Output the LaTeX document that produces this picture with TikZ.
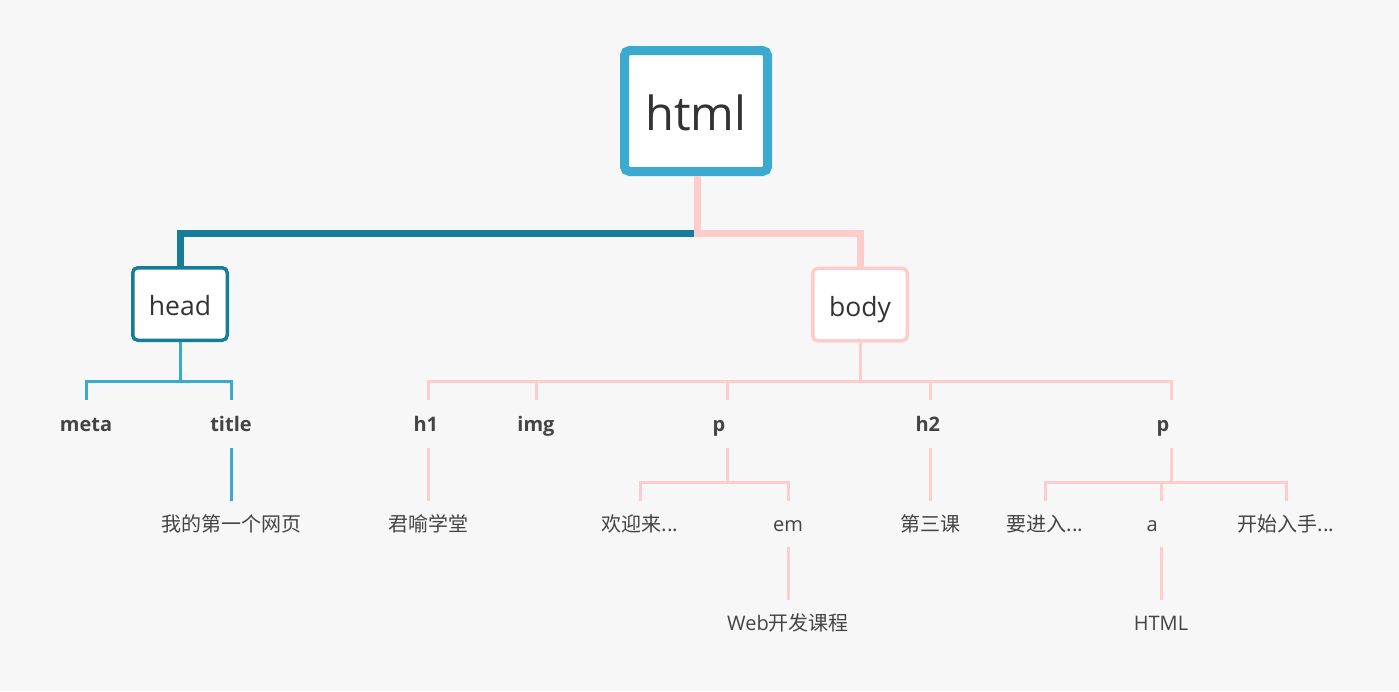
\documentclass[tikz,border=0pt]{standalone}
\usepackage{fontspec}
\setmainfont{Open Sans}
\newfontfamily\cjk{Noto Sans CJK SC}
\usepackage{tikz}
\definecolor{pagebg}{HTML}{F7F7F7}
\definecolor{htmlblue}{HTML}{3AAACE}
\definecolor{headteal}{HTML}{167C98}
\definecolor{bodypink}{HTML}{FFCCCC}
\definecolor{darktext}{HTML}{333333}
\definecolor{labeltext}{HTML}{444444}
\tikzset{
  rootbox/.style={
    draw=htmlblue,
    fill=white,
    line width=9pt,
    rounded corners=5pt,
    inner sep=0pt,
    minimum width=143pt,
    minimum height=121pt,
    text height=38pt,
    text depth=0pt,
    text=darktext,
    font=\fontsize{47}{56}\selectfont
  },
  branchbox/.style={
    fill=white,
    line width=3.5pt,
    rounded corners=5pt,
    inner sep=0pt,
    minimum width=94.5pt,
    minimum height=72.5pt,
    text height=26pt,
    text depth=3pt,
    text=darktext,
    font=\fontsize{26.5}{32}\selectfont
  },
  tagnode/.style={
    inner sep=0pt,
    minimum height=47pt,
    text height=19pt,
    text depth=5pt,
    text=labeltext,
    font=\fontsize{20}{24}\selectfont\bfseries
  },
  leafnode/.style={
    inner sep=0pt,
    minimum height=46pt,
    text height=19pt,
    text depth=5pt,
    text=labeltext,
    font=\fontsize{20}{24}\selectfont
  },
  shorttag/.style={text width=29pt, align=left},
  trunk/.style={line width=7pt},
  twig/.style={line width=3pt}
}
\begin{document}
\begin{tikzpicture}[x=1pt,y=-1pt]
  \fill[pagebg] (0,0) rectangle (1399,691);
  \useasboundingbox (0,0) rectangle (1399,691);

  \node[rootbox] (html) at (696,111) {html};
  \node[branchbox,draw=headteal] (head) at (180,304) {head};
  \node[branchbox,draw=bodypink] (body) at (860,304.5) {body};

  \node[tagnode] (meta) at (86,424) {meta};
  \node[tagnode] (title) at (231,424) {title};
  \node[leafnode] (titletext) at (231,524) {\cjk 我的第一个网页};

  \node[tagnode,shorttag] (h1) at (428,424) {h1};
  \node[tagnode] (img) at (536,424) {img};
  \node[tagnode,shorttag] (pone) at (727,424) {p};
  \node[tagnode,shorttag] (h2) at (930,424) {h2};
  \node[tagnode,shorttag] (ptwo) at (1171,424) {p};

  \node[leafnode] (h1text) at (428,524) {\cjk 君喻学堂};
  \node[leafnode] (ponetext) at (640,524) {\cjk 欢迎来...};
  \node[leafnode] (em) at (788,524) {em};
  \node[leafnode] (emtext) at (788,623) {Web{\cjk 开发课程}};
  \node[leafnode] (h2text) at (930,524) {\cjk 第三课};
  \node[leafnode] (ptwotext) at (1045,524) {\cjk 要进入...};
  \node[leafnode,shorttag] (a) at (1161,524) {a};
  \node[leafnode] (atext) at (1161,623) {HTML};
  \node[leafnode] (ptwoend) at (1286,524) {\cjk 开始入手...};

  \coordinate (rootbus) at (697,233.5);
  \coordinate (headbus) at (180,381.5);
  \coordinate (bodybus) at (860,381.5);
  \coordinate (ponebus) at (727,482);
  \coordinate (ptwobus) at (1171,482);

  \draw[trunk,headteal] (rootbus) -| (head.north);
  \draw[trunk,bodypink] (html.south -| rootbus) -- (rootbus) -| (body.north);

  \draw[twig,htmlblue] (head.south) -- (headbus);
  \foreach \n in {meta,title}
    \draw[twig,htmlblue] (\n.north) |- (headbus);
  \draw[twig,htmlblue] (title) -- (titletext);

  \draw[twig,bodypink] (body.south) -- (bodybus);
  \foreach \n in {h1,img,pone,h2,ptwo}
    \draw[twig,bodypink] (\n.north) |- (bodybus);
  \draw[twig,bodypink] (h1) -- (h1text);
  \draw[twig,bodypink] (h2) -- (h2text);

  \draw[twig,bodypink] (pone.south) -- (ponebus);
  \foreach \n in {ponetext,em}
    \draw[twig,bodypink] (\n.north) |- (ponebus);
  \draw[twig,bodypink] (em) -- (emtext);

  \draw[twig,bodypink] (ptwo.south) -- (ptwobus);
  \foreach \n in {ptwotext,a,ptwoend}
    \draw[twig,bodypink] (\n.north) |- (ptwobus);
  \draw[twig,bodypink] (a) -- (atext);
\end{tikzpicture}
\end{document}
